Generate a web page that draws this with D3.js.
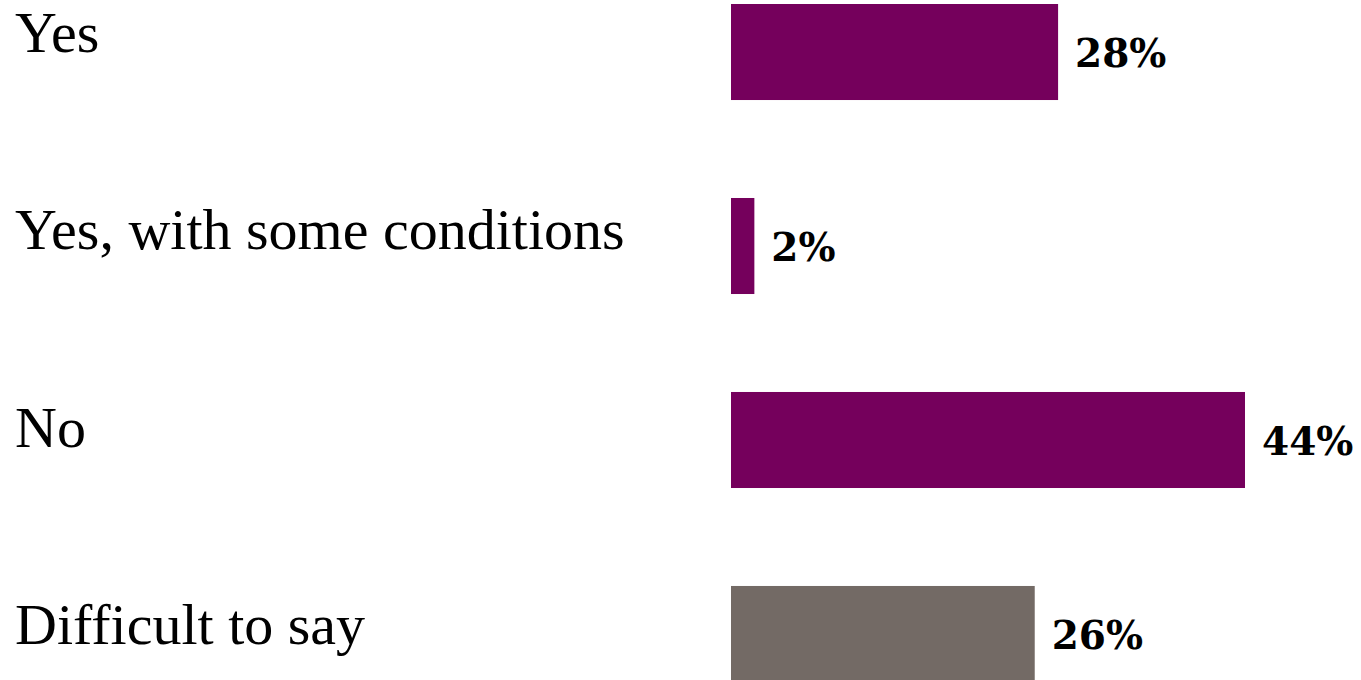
<!DOCTYPE html>
<html>
<head>
<meta charset="utf-8">
<script src="https://cdn.jsdelivr.net/npm/d3@7"></script>
<style>
  html, body { margin: 0; padding: 0; background: #ffffff; overflow: hidden; }
  svg { display: block; }
</style>
</head>
<body>
<script>
const categories = ["Yes", "Yes, with some conditions", "No", "Difficult to say"];
const values = [28, 2, 44, 26];
const valueLabels = ["28%", "2%", "44%", "26%"];
const colors = ["#75005c", "#75005c", "#75005c", "#736a65"];

const W = 1361, H = 680;
const svg = d3.select("body").append("svg").attr("width", W).attr("height", H);

const x = d3.scaleLinear().domain([0, 44]).range([731, 1245]);
const y = d3.scaleBand().domain(categories).range([4, 682]).paddingInner(0.505).paddingOuter(0);
const yLabel = d3.scalePoint().domain(categories).range([52, 644]);

svg.selectAll("rect.bar").data(categories).join("rect")
  .attr("class", "bar")
  .attr("x", x(0))
  .attr("y", d => y(d))
  .attr("width", (d, i) => x(values[i]) - x(0))
  .attr("height", y.bandwidth())
  .attr("fill", (d, i) => colors[i]);

svg.selectAll("text.cat").data(categories).join("text")
  .attr("class", "cat")
  .attr("x", 15)
  .attr("y", d => yLabel(d))
  .attr("font-family", "'Liberation Serif', 'DejaVu Serif', serif")
  .attr("font-size", 58)
  .attr("fill", "#000")
  .text(d => d);

svg.selectAll("text.val").data(categories).join("text")
  .attr("class", "val")
  .attr("x", (d, i) => x(values[i]) + 17)
  .attr("y", d => y(d) + y.bandwidth() / 2 + 15)
  .attr("font-family", "'DejaVu Serif', serif")
  .attr("font-weight", "bold")
  .attr("font-size", 39)
  .attr("fill", "#000")
  .text((d, i) => valueLabels[i]);
</script>
</body>
</html>
